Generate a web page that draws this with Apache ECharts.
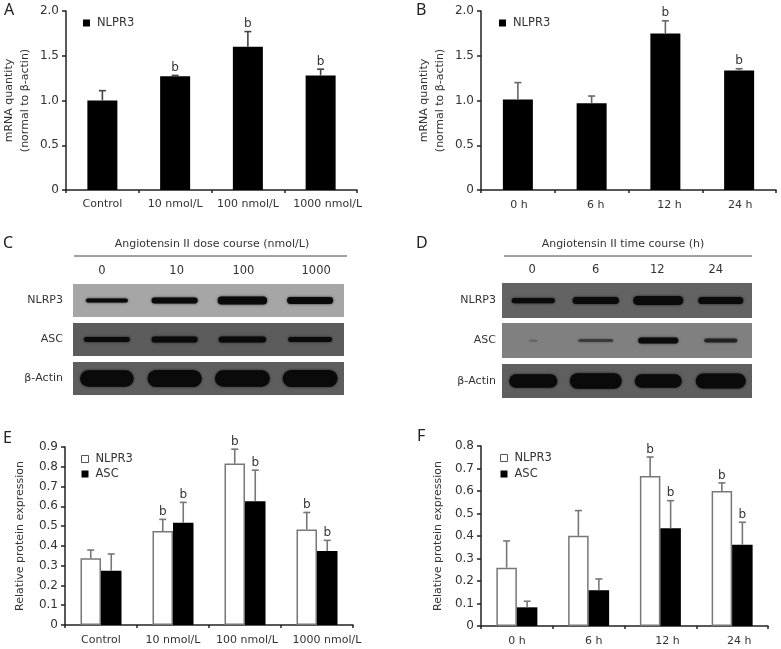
<!DOCTYPE html>
<html>
<head>
<meta charset="utf-8">
<style>
  html, body { margin: 0; padding: 0; background: #fff; }
  #main { width: 781px; height: 649px; }
</style>
</head>
<body>
<div id="main"></div>
<script src="https://cdn.jsdelivr.net/npm/echarts@6/dist/echarts.min.js"></script>
<script>
// bar panels
const doseCats = ['Control', '10 nmol/L', '100 nmol/L', '1000 nmol/L'];
const timeCats = ['0 h', '6 h', '12 h', '24 h'];
const mrnaTicks = ['0', '0.5', '1.0', '1.5', '2.0'];
const proteinTicksE = ['0', '0.1', '0.2', '0.3', '0.4', '0.5', '0.6', '0.7', '0.8', '0.9'];
const proteinTicksF = ['0', '0.1', '0.2', '0.3', '0.4', '0.5', '0.6', '0.7', '0.8'];

const aValues = [1.0, 1.27, 1.6, 1.28];
const aUpper = [1.11, 1.28, 1.77, 1.35];
const aMarks = ['', 'b', 'b', 'b'];

const bValues = [1.01, 0.97, 1.75, 1.335];
const bUpper = [1.2, 1.05, 1.89, 1.355];
const bMarks = ['', '', 'b', 'b'];

const eNlrp3 = [0.337, 0.475, 0.816, 0.483];
const eNlrp3Upper = [0.379, 0.534, 0.889, 0.569];
const eNlrp3Marks = ['', 'b', 'b', 'b'];
const eAsc = [0.274, 0.517, 0.626, 0.374];
const eAscUpper = [0.359, 0.62, 0.783, 0.428];
const eAscMarks = ['', 'b', 'b', 'b'];

const fNlrp3 = [0.259, 0.401, 0.667, 0.6];
const fNlrp3Upper = [0.378, 0.513, 0.751, 0.636];
const fNlrp3Marks = ['', '', 'b', 'b'];
const fAsc = [0.083, 0.159, 0.434, 0.361];
const fAscUpper = [0.11, 0.209, 0.557, 0.461];
const fAscMarks = ['', '', 'b', 'b'];

// blots: band length as share of a lane, band thickness as share of a row, density 0-1
const doseLanes = ['0', '10', '100', '1000'];
const timeLanes = ['0', '6', '12', '24'];
const cNlrp3Length = [0.62, 0.68, 0.73, 0.68];
const cNlrp3Thick = [0.12, 0.18, 0.24, 0.21];
const cAscLength = [0.68, 0.68, 0.7, 0.65];
const cAscThick = [0.15, 0.18, 0.18, 0.15];
const cActinLength = [0.79, 0.8, 0.81, 0.81];
const cActinThick = [0.5, 0.52, 0.5, 0.52];
const dNlrp3Length = [0.69, 0.74, 0.8, 0.72];
const dNlrp3Thick = [0.15, 0.2, 0.26, 0.2];
const dAscLength = [0.13, 0.56, 0.64, 0.53];
const dAscThick = [0.05, 0.09, 0.17, 0.11];
const dAscDensity = [0.2, 0.45, 1, 0.65];
const dActinLength = [0.77, 0.83, 0.75, 0.8];
const dActinThick = [0.4, 0.45, 0.4, 0.44];
const fullDensity = [1, 1, 1, 1];

const FONT = '"DejaVu Sans"';
const TEXT = '#333';

const grid = [];
const xAxis = [];
const yAxis = [];
const series = [];

// nudges a category label sideways, px
function nudged(cats, shifts) {
  return cats.map((value, i) => {
    const s = shifts[i] * 2;
    return { value, textStyle: { padding: s >= 0 ? [0, 0, 0, s] : [0, -s, 0, 0] } };
  });
}

function errorSeries(idx, values, upper, marks, offset, color) {
  return {
    type: 'custom',
    xAxisIndex: idx,
    yAxisIndex: idx,
    silent: true,
    z: 4,
    data: values.map((v, i) => [i, v, upper[i]]),
    renderItem(params, api) {
      const base = api.coord([api.value(0), api.value(1)]);
      const top = api.coord([api.value(0), api.value(2)]);
      const x = base[0] + offset;
      const stroke = { stroke: color, lineWidth: 1.6 };
      const children = [
        { type: 'line', shape: { x1: x, y1: base[1], x2: x, y2: top[1] }, style: stroke },
        { type: 'line', shape: { x1: x - 3.5, y1: top[1], x2: x + 3.5, y2: top[1] }, style: stroke },
      ];
      const mark = marks[params.dataIndex];
      if (mark) {
        children.push({
          type: 'text',
          style: {
            text: mark, x: x, y: top[1] - 7.5, align: 'center', verticalAlign: 'middle',
            fill: TEXT, font: '12px ' + FONT,
          },
        });
      }
      return { type: 'group', children };
    },
  };
}

function barPanel(pos, cats, ticks, max, interval, name, nameGap, labelMargin) {
  const idx = grid.length;
  grid.push(pos);
  xAxis.push({
    gridIndex: idx,
    type: 'category',
    data: cats,
    axisLine: { lineStyle: { color: '#222', width: 1.5 } },
    axisTick: { show: true, alignWithLabel: false, length: 3, lineStyle: { color: '#222', width: 1.5 } },
    axisLabel: { interval: 0, color: TEXT, fontFamily: FONT, fontSize: 11, margin: labelMargin, hideOverlap: false },
  });
  yAxis.push({
    gridIndex: idx,
    type: 'value',
    min: 0,
    max: max,
    interval: interval,
    name: name,
    nameLocation: 'middle',
    nameGap: nameGap,
    nameRotate: 90,
    nameTextStyle: { color: TEXT, fontFamily: FONT, fontSize: 11, lineHeight: 16 },
    axisLine: { show: true, onZero: false, lineStyle: { color: '#222', width: 1.5 } },
    axisTick: { show: true, length: 4, lineStyle: { color: '#222', width: 1.5 } },
    axisLabel: {
      color: TEXT, fontFamily: FONT, fontSize: 12, margin: 7,
      formatter: (v) => ticks[Math.round(v / interval)],
    },
    splitLine: { show: false },
  });
  return idx;
}

// A
const iA = barPanel({ left: 65, top: 11, width: 292, height: 179 }, nudged(doseCats, [0, 0, 0, 7]), mrnaTicks, 2, 0.5,
  'mRNA quantity\n(normal to β-actin)', 33, 9);
series.push({ type: 'bar', name: 'NLPR3', xAxisIndex: iA, yAxisIndex: iA, barWidth: 30, data: aValues,
  itemStyle: { color: '#000' } });
series.push(errorSeries(iA, aValues, aUpper, aMarks, 0, '#444'));

// B
const iB = barPanel({ left: 481, top: 11, width: 295, height: 179 }, nudged(timeCats, [1, 4, 4, 1]), mrnaTicks, 2, 0.5,
  'mRNA quantity\n(normal to β-actin)', 33, 10);
series.push({ type: 'bar', name: 'NLPR3', xAxisIndex: iB, yAxisIndex: iB, barWidth: 30, data: bValues,
  itemStyle: { color: '#000' } });
series.push(errorSeries(iB, bValues, bUpper, bMarks, 0, '#666'));

// E and F share the paired layout
function pairedBars(idx, white, whiteUpper, whiteMarks, black, blackUpper, blackMarks) {
  const w = 20.5;
  series.push({ type: 'bar', name: 'NLPR3', xAxisIndex: idx, yAxisIndex: idx, barWidth: w, barGap: 0, data: white,
    itemStyle: { color: '#fff', borderColor: '#777', borderWidth: 1.5 } });
  series.push({ type: 'bar', name: 'ASC', xAxisIndex: idx, yAxisIndex: idx, barWidth: w, barGap: 0, data: black,
    itemStyle: { color: '#000' } });
  series.push(errorSeries(idx, white, whiteUpper, whiteMarks, -w / 2, '#777'));
  series.push(errorSeries(idx, black, blackUpper, blackMarks, w / 2, '#777'));
}

const iE = barPanel({ left: 65, top: 447, width: 288, height: 178 }, nudged(doseCats, [0, 0, 2, 10]), proteinTicksE, 0.9, 0.1,
  'Relative protein expression', 37, 10);
pairedBars(iE, eNlrp3, eNlrp3Upper, eNlrp3Marks, eAsc, eAscUpper, eAscMarks);

const iF = barPanel({ left: 481, top: 446, width: 287, height: 180 }, nudged(timeCats, [0, 5, 7, 7]), proteinTicksF, 0.8, 0.1,
  'Relative protein expression', 35, 10);
pairedBars(iF, fNlrp3, fNlrp3Upper, fNlrp3Marks, fAsc, fAscUpper, fAscMarks);

// blot rows: grey strip with blurred dark bands
function blotRow(pos, lanes, showLanes, rowLabel, labelMargin, bg, length, thick, density) {
  const idx = grid.length;
  grid.push(Object.assign({ show: true, backgroundColor: bg, borderWidth: 0 }, pos));
  xAxis.push({
    gridIndex: idx,
    type: 'category',
    position: 'top',
    data: lanes,
    axisLine: { show: false },
    axisTick: { show: false },
    axisLabel: { show: showLanes, interval: 0, color: TEXT, fontFamily: FONT, fontSize: 11.5, margin: 7 },
  });
  yAxis.push({
    gridIndex: idx,
    type: 'category',
    data: [rowLabel],
    axisLine: { show: false },
    axisTick: { show: false },
    axisLabel: { color: TEXT, fontFamily: FONT, fontSize: 11, margin: labelMargin },
  });
  series.push({
    type: 'custom',
    xAxisIndex: idx,
    yAxisIndex: idx,
    silent: true,
    data: lanes.map((l, i) => [i, 0, length[i], thick[i], density[i]]),
    renderItem(params, api) {
      const c = api.coord([api.value(0), 0]);
      const w = api.size([1, 0])[0] * api.value(2);
      const h = api.size([0, 1])[1] * api.value(3);
      const d = api.value(4);
      return {
        type: 'rect',
        shape: { x: c[0] - w / 2, y: c[1] - h / 2, width: w, height: h, r: h / 2 },
        style: { fill: '#0a0a0a', opacity: d, shadowBlur: 2.5, shadowColor: 'rgba(10,10,10,0.8)' },
      };
    },
  });
}

const doseLanesNudged = nudged(doseLanes, [-5, 2, 1, 6]);
const timeLanesNudged = nudged(timeLanes, [-1, 0, -1, -5]);
blotRow({ left: 73, top: 284, width: 271, height: 33 }, doseLanesNudged, true, 'NLRP3', 10, '#a6a6a6', cNlrp3Length, cNlrp3Thick, fullDensity);
blotRow({ left: 73, top: 323, width: 271, height: 33 }, doseLanes, false, 'ASC', 10, '#5c5c5c', cAscLength, cAscThick, fullDensity);
blotRow({ left: 73, top: 362, width: 271, height: 33 }, doseLanes, false, 'β-Actin', 10, '#5e5e5e', cActinLength, cActinThick, fullDensity);
blotRow({ left: 502, top: 283, width: 250, height: 35 }, timeLanesNudged, true, 'NLRP3', 6, '#636363', dNlrp3Length, dNlrp3Thick, fullDensity);
blotRow({ left: 502, top: 323, width: 250, height: 35 }, timeLanes, false, 'ASC', 6, '#808080', dAscLength, dAscThick, dAscDensity);
blotRow({ left: 502, top: 364, width: 250, height: 34 }, timeLanes, false, 'β-Actin', 6, '#5f5f5f', dActinLength, dActinThick, fullDensity);

function panelLetter(text, x, y) {
  return { type: 'text', x: x, y: y, style: { text, fill: '#222', font: '16px "Noto Sans"', verticalAlign: 'middle' } };
}
function courseHeader(text, cx, y) {
  return { type: 'text', x: cx, y: y, style: { text, fill: TEXT, font: '11px ' + FONT, align: 'center', verticalAlign: 'middle' } };
}
function rule(x1, x2, y) {
  return { type: 'line', shape: { x1, y1: y, x2, y2: y }, style: { stroke: '#444', lineWidth: 1 } };
}

const legendBase = {
  itemWidth: 7, itemHeight: 7, selectedMode: false, padding: 0, icon: 'rect',
  textStyle: { color: TEXT, fontFamily: FONT, fontSize: 11.5, padding: [0, 0, 0, 2] },
};
const pairedLegend = [
  { name: 'NLPR3', itemStyle: { color: '#fff', borderColor: '#555', borderWidth: 1 } },
  { name: 'ASC', itemStyle: { color: '#000' } },
];

const chart = echarts.init(document.getElementById('main'));
chart.setOption({
  animation: false,
  backgroundColor: '#fff',
  grid,
  xAxis,
  yAxis,
  series,
  legend: [
    Object.assign({ left: 83, top: 17, data: ['NLPR3'] }, legendBase),
    Object.assign({ left: 499, top: 17, data: ['NLPR3'] }, legendBase),
    Object.assign({ left: 81, top: 453, orient: 'vertical', itemGap: 3, data: pairedLegend }, legendBase),
    Object.assign({ left: 500, top: 452, orient: 'vertical', itemGap: 4, data: pairedLegend }, legendBase),
  ],
  graphic: [
    panelLetter('A', 4, 10),
    panelLetter('B', 416, 10),
    panelLetter('C', 3, 243),
    panelLetter('D', 416, 243),
    panelLetter('E', 3, 438),
    panelLetter('F', 417, 436),
    courseHeader('Angiotensin II dose course (nmol/L)', 212, 244),
    courseHeader('Angiotensin II time course (h)', 623, 244),
    rule(74, 347, 256),
    rule(504, 752, 256),
  ],
});
</script>
</body>
</html>
